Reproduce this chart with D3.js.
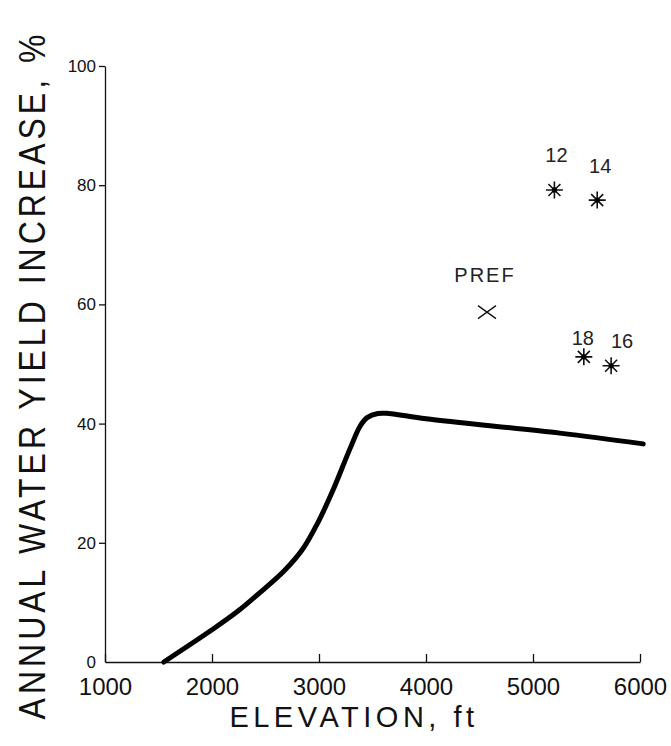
<!DOCTYPE html>
<html>
<head>
<meta charset="utf-8">
<script src="https://cdn.jsdelivr.net/npm/d3@7"></script>
<style>
  body { margin: 0; background: #fff; }
  svg { font-family: "Liberation Sans", Arial, Helvetica, sans-serif; }
</style>
</head>
<body>
<svg width="671" height="746"></svg>
<script>
// curve: elevation (ft) vs annual water yield increase (%)
var curveElev = [1550, 2000, 2240, 2445, 2680, 2850, 2990, 3125, 3290, 3385, 3450, 3550, 3650, 4000, 5250, 6030]
var curveYield = [0, 5.4, 8.5, 11.6, 15.4, 19.0, 23.4, 28.6, 35.8, 39.6, 41.0, 41.7, 41.7, 40.8, 38.4, 36.6]

// observed watersheds
var siteNames = ["12", "14", "PREF", "18", "16"]
var siteElev = [5200, 5600, 4570, 5475, 5730]
var siteYield = [79.2, 77.5, 58.7, 51.2, 49.7]
var siteMarker = ["star", "star", "x", "star", "star"]

var xTicks = [1000, 2000, 3000, 4000, 5000, 6000]
var yTicks = [0, 20, 40, 60, 80, 100]

// label placement next to each marker (dx, dy in px)
var labelOffsets = [[2, -28], [3, -27], [-2, -30], [-1, -12], [11, -18]]

var svg = d3.select("svg")
var x = d3.scaleLinear().domain([1000, 6000]).range([105, 640])
var y = d3.scaleLinear().domain([0, 100]).range([662, 66])

// x axis, ticks pointing up
var xAxis = svg.append("g")
    .attr("transform", "translate(0," + y(0) + ")")
    .call(d3.axisBottom(x).tickValues(xTicks).tickSizeInner(-8).tickSizeOuter(0).tickPadding(16).tickFormat(d3.format("d")))
xAxis.select(".domain").attr("stroke", "#111").attr("stroke-width", 1.3)
xAxis.selectAll(".tick line").attr("stroke", "#111").attr("stroke-width", 1.3)
xAxis.selectAll(".tick text").attr("font-size", 24).attr("fill", "#111").attr("font-family", null)

// y axis
var yAxis = svg.append("g")
    .attr("transform", "translate(" + x(1000) + ",0)")
    .call(d3.axisLeft(y).tickValues(yTicks).tickSize(6).tickSizeOuter(0).tickPadding(3))
yAxis.select(".domain").attr("stroke", "#111").attr("stroke-width", 1.3)
yAxis.selectAll(".tick line").attr("stroke", "#111").attr("stroke-width", 1.3)
    .filter(d => d === 0).attr("x2", 0)
yAxis.selectAll(".tick text").attr("font-size", 17).attr("fill", "#111").attr("font-family", null)

// axis titles
svg.append("text")
    .attr("x", 354).attr("y", 727)
    .attr("text-anchor", "middle")
    .attr("font-size", 29)
    .attr("letter-spacing", 4.5)
    .attr("fill", "#111")
    .text("ELEVATION, ft")

svg.append("text")
    .attr("transform", "translate(45,375) rotate(-90) scale(1,1.15)")
    .attr("text-anchor", "middle")
    .attr("font-size", 32)
    .attr("letter-spacing", 4)
    .attr("fill", "#111")
    .text("ANNUAL WATER YIELD INCREASE, %")

// model curve
var curveData = curveElev.map((e, i) => ({ elev: e, val: curveYield[i] }))
var line = d3.line()
    .x(d => x(d.elev))
    .y(d => y(d.val))
    .curve(d3.curveCatmullRom.alpha(0.5))

svg.append("path")
    .datum(curveData)
    .attr("d", line)
    .attr("fill", "none")
    .attr("stroke", "#000")
    .attr("stroke-width", 5)
    .attr("stroke-linecap", "round")
    .attr("stroke-linejoin", "round")

// markers
function markerPath(type) {
    var p = d3.path()
    if (type === "x") {
        p.moveTo(-9, -6.5); p.lineTo(9, 6.5)
        p.moveTo(-9, 6.5); p.lineTo(9, -6.5)
    } else {
        var r = 8.5
        for (var k = 0; k < 4; k++) {
            var a = k * Math.PI / 4
            p.moveTo(-r * Math.cos(a), -r * Math.sin(a))
            p.lineTo(r * Math.cos(a), r * Math.sin(a))
        }
    }
    return p.toString()
}

var sites = siteNames.map((n, i) => ({ name: n, elev: siteElev[i], val: siteYield[i], type: siteMarker[i], off: labelOffsets[i] }))

var pts = svg.selectAll(".site")
    .data(sites)
    .enter().append("g")
    .attr("class", "site")
    .attr("transform", d => "translate(" + x(d.elev) + "," + y(d.val) + ")")

pts.append("path")
    .attr("d", d => markerPath(d.type))
    .attr("fill", "none")
    .attr("stroke", "#111")
    .attr("stroke-width", d => d.type === "x" ? 1.3 : 1.6)

pts.filter(d => d.type === "star").append("circle")
    .attr("r", 2.6)
    .attr("fill", "#000")

pts.append("text")
    .attr("x", d => d.off[0])
    .attr("y", d => d.off[1])
    .attr("text-anchor", "middle")
    .attr("font-size", 20)
    .attr("letter-spacing", d => d.type === "x" ? 2 : 0)
    .attr("fill", "#222")
    .text(d => d.name)
</script>
</body>
</html>
